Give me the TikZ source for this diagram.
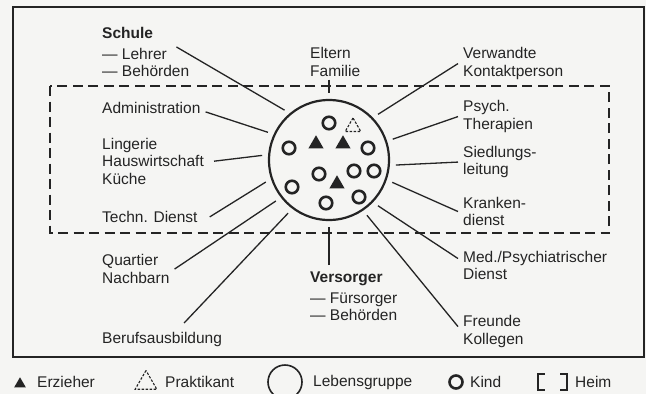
\documentclass[tikz,border=0pt]{standalone}
\usepackage{fontspec}
\setmainfont{Liberation Sans}
\usetikzlibrary{positioning,shapes.geometric}
\definecolor{ink}{RGB}{36,36,36}
\definecolor{paper}{RGB}{245,245,243}
\tikzstyle{txt}=[anchor=north west,align=left,inner xsep=5pt,inner ysep=0pt,text=ink]
\tikzstyle{link}=[draw=ink,line width=1.3pt,shorten >=6pt]
\tikzstyle{kind}=[draw=ink,circle,line width=2.6pt,minimum size=12.5pt,inner sep=0pt]
\tikzstyle{erz}=[fill=ink,regular polygon,regular polygon sides=3,minimum size=17.5pt,inner sep=0pt]
\tikzstyle{prakt}=[draw=ink,line width=1.1pt,dash pattern=on 2.5pt off 1.5pt,regular polygon,regular polygon sides=3,minimum size=18pt,inner sep=0pt]
\begin{document}
\begin{tikzpicture}[x=1pt,y=-1pt,font=\fontsize{15.5}{17.3}\selectfont]
    \useasboundingbox (0,0) rectangle (646,394);
    \fill[paper] (0,0) rectangle (646,394);
    \draw[ink,line width=2pt] (13,7) rectangle (644,357);
    \draw[ink,line width=1.6pt,dash pattern=on 10pt off 5.5pt] (50,86) rectangle (609,233);
    \node [draw=ink,circle,line width=2.2pt,minimum size=120pt,inner sep=0pt] (grp) at (329,160) {};
    \foreach \p [count=\i] in {(329,123),(289,148),(368,148),(319,174),(354,171),(374,171),(292,187),(326,203),(359,197)}
      \node [kind] (k\i) at \p {};
    \foreach \p [count=\i] in {(316,144),(343,144),(337,184)}
      \node [erz] (e\i) at \p {};
    \node [prakt] (p1) at (353,127) {};
    \node [txt] (schule) at (97,27) {\textbf{Schule}\\[3.5pt]— Lehrer\\— Behörden};
    \node [txt] (eltern) at (305,47.5) {Eltern\\Familie};
    \node [txt] (verw) at (458,47.5) {Verwandte\\Kontaktperson};
    \node [txt] (admin) at (97,102) {Administration};
    \node [txt] (ling) at (97,138) {Lingerie\\Hauswirtschaft\\Küche};
    \node [txt] (techn) at (97,211) {Techn. Dienst};
    \node [txt] (quart) at (97,254.5) {Quartier\\Nachbarn};
    \node [txt] (beruf) at (97,332) {Berufsausbildung};
    \node [txt] (vers) at (305,271.5) {\textbf{Versorger}\\[3.5pt]— Fürsorger\\— Behörden};
    \node [txt] (psych) at (458,100.5) {Psych.\\Therapien};
    \node [txt] (sied) at (458,146) {Siedlungs-\\leitung};
    \node [txt] (krank) at (458,197) {Kranken-\\dienst};
    \node [txt] (med) at (458,251) {Med./Psychiatrischer\\Dienst};
    \node [txt] (freunde) at (458,315.5) {Freunde\\Kollegen};
    \draw [link] ([xshift=-18pt,yshift=5pt]schule.east) -- (grp.130);
    \draw [link,shorten <=3pt] (eltern.south -| grp.north) -- (grp.north);
    \draw [link] (verw.west) -- (grp.44);
    \draw [link] ([yshift=-4pt]admin.east) -- (grp.155);
    \draw [link] ([xshift=5pt]ling.east) -- (grp.175);
    \draw [link] ([xshift=7pt]techn.east) -- (grp.198);
    \draw [link] (quart.east) -- (grp.218);
    \draw [link] ([xshift=22pt,yshift=9pt]beruf.north) -- (grp.233);
    \draw [link,shorten <=6.5pt] (vers.north -| grp.south) -- (grp.south);
    \draw [link] (psych.west) -- (grp.18);
    \draw [link] (sied.west) -- (grp.-5);
    \draw [link] (krank.west) -- (grp.-19);
    \draw [link] ([yshift=7pt]med.west) -- (grp.-44);
    \draw [link] ([yshift=5pt]freunde.west) -- (grp.-56);
    \node [erz,minimum size=13.5pt] (erzkey) at (20,384) {};
    \node [txt,anchor=west] (erztxt) at (32,382) {Erzieher};
    \node [prakt,minimum size=25pt] (praktkey) at (146,383) {};
    \node [txt,anchor=west] (prakttxt) at (160,382) {Praktikant};
    \node [draw=ink,circle,line width=1.6pt,minimum size=34pt,inner sep=0pt] (grpkey) at (285,382) {};
    \node [txt,anchor=west] (grptxt) at (308,382) {Lebensgruppe};
    \node [kind,minimum size=13pt] (kindkey) at (456,382) {};
    \node [txt,anchor=west] (kindtxt) at (465,382) {Kind};
    \node [minimum width=29pt,minimum height=16pt,inner sep=0pt] (heimkey) at (552.5,382) {};
    \draw [ink,line width=1.8pt] ([xshift=7pt]heimkey.north west) -- (heimkey.north west) -- (heimkey.south west) -- ++(7,0);
    \draw [ink,line width=1.8pt] ([xshift=-7pt]heimkey.north east) -- (heimkey.north east) -- (heimkey.south east) -- ++(-7,0);
    \node [txt,anchor=west] (heimtxt) at (570,382) {Heim};
  \end{tikzpicture}
\end{document}
